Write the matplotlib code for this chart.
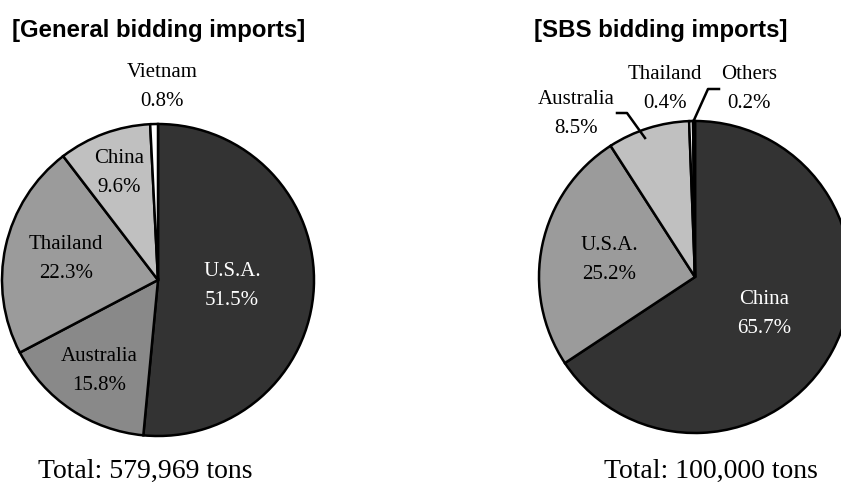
import matplotlib
matplotlib.use('Agg')
import matplotlib.pyplot as plt

# general bidding imports
gen_names = ['U.S.A.', 'Australia', 'Thailand', 'China', 'Vietnam']
gen_share = [51.5, 15.8, 22.3, 9.6, 0.8]
gen_total = '579,969'

# SBS bidding imports
sbs_names = ['China', 'U.S.A.', 'Australia', 'Thailand', 'Others']
sbs_share = [65.7, 25.2, 8.5, 0.4, 0.2]
sbs_total = '100,000'

W, H = 841, 484
fig = plt.figure(figsize=(W / 100, H / 100), dpi=100)
ax = fig.add_axes([0, 0, 1, 1])

def py(y):
    # pixel row -> data y
    return H - y

serif = 'Liberation Serif'
sans = 'Liberation Sans'
wp = dict(edgecolor='black', linewidth=1.8)

# left pie
gen_colors = ['#333333', '#898989', '#9b9b9b', '#c0c0c0', '#ffffff']
gen_text = ['white', 'black', 'black', 'black', 'black']
gen_pos = [(232, 286), (99, 371), (66, 259), (119, 173), (162, 87)]
ax.pie(gen_share, colors=gen_colors, startangle=90, counterclock=False,
       center=(158, py(280)), radius=156, wedgeprops=wp)
for n, s, c, (x, y) in zip(gen_names, gen_share, gen_text, gen_pos):
    ax.text(x, py(y), f'{n}\n{s:.1f}%', ha='center', va='center',
            fontsize=15, family=serif, color=c, linespacing=1.7)

# right pie
sbs_colors = ['#333333', '#9b9b9b', '#c0c0c0', '#ffffff', '#ffffff']
sbs_text = ['white', 'black', 'black', 'black', 'black']
sbs_pos = [(764, 314), (609, 260), (576, 114), (665, 89), (749, 89)]
ax.pie(sbs_share, colors=sbs_colors, startangle=90, counterclock=False,
       center=(695, py(277)), radius=156, wedgeprops=wp)
for n, s, c, (x, y) in zip(sbs_names, sbs_share, sbs_text, sbs_pos):
    ax.text(x, py(y), f'{n}\n{s:.1f}%', ha='center', va='center',
            fontsize=15, family=serif, color=c, linespacing=1.7)

# leader lines
ax.plot([645, 627, 617], [py(138), py(113), py(113)], color='black', lw=1.8)
ax.plot([694, 708, 719], [py(120), py(89), py(89)], color='black', lw=1.8)

# titles and totals
ax.text(12, py(37), '[General bidding imports]', ha='left', va='baseline',
        fontsize=17.3, family=sans, fontweight='bold')
ax.text(534, py(37), '[SBS bidding imports]', ha='left', va='baseline',
        fontsize=17.3, family=sans, fontweight='bold')
ax.text(145, py(478), f'Total: {gen_total} tons', ha='center', va='baseline',
        fontsize=20, family=serif)
ax.text(711, py(478), f'Total: {sbs_total} tons', ha='center', va='baseline',
        fontsize=20, family=serif)

ax.set_xlim(0, W)
ax.set_ylim(0, H)
ax.set_aspect('auto')
ax.axis('off')

fig.savefig('out.png', dpi=100)
